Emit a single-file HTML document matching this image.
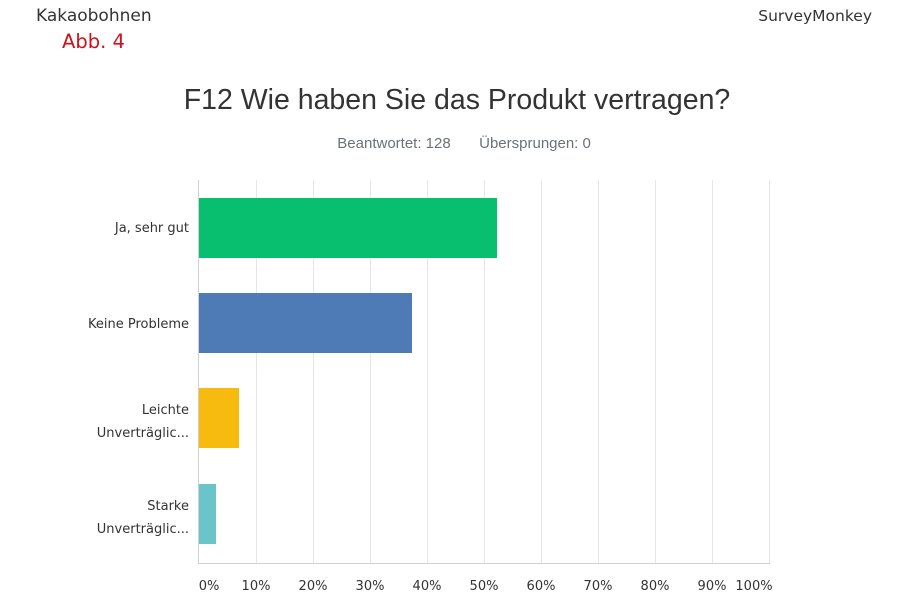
<!DOCTYPE html>
<html><head><meta charset="utf-8"><style>
body{margin:0;background:#fff;width:901px;height:601px;overflow:hidden;font-family:"Liberation Sans",sans-serif;}
</style></head><body>
<svg width="901" height="601" xmlns="http://www.w3.org/2000/svg">
<text x="36" y="21" font-family="DejaVu Sans" font-size="17" fill="#333">Kakaobohnen</text>
<text x="62" y="48" font-family="DejaVu Sans" font-size="19.5" fill="#d0101c">Abb. 4</text>
<text x="872" y="21" text-anchor="end" font-family="DejaVu Sans" font-size="15.5" fill="#333">SurveyMonkey</text>
<text x="457" y="109" text-anchor="middle" font-size="28.5" fill="#333">F12 Wie haben Sie das Produkt vertragen?</text>
<text x="394" y="148" text-anchor="middle" font-size="15" fill="#6b7178">Beantwortet: 128</text>
<text x="535" y="148" text-anchor="middle" font-size="15" fill="#6b7178">Übersprungen: 0</text>
<g stroke="#e6e6e6" stroke-width="1">
<line x1="256.5" y1="180" x2="256.5" y2="563"/><line x1="313.5" y1="180" x2="313.5" y2="563"/>
<line x1="370.5" y1="180" x2="370.5" y2="563"/><line x1="427.5" y1="180" x2="427.5" y2="563"/>
<line x1="484.5" y1="180" x2="484.5" y2="563"/><line x1="541.5" y1="180" x2="541.5" y2="563"/>
<line x1="598.5" y1="180" x2="598.5" y2="563"/><line x1="655.5" y1="180" x2="655.5" y2="563"/>
<line x1="712.5" y1="180" x2="712.5" y2="563"/><line x1="769.5" y1="180" x2="769.5" y2="563"/>
</g>
<line x1="198.5" y1="180" x2="198.5" y2="563" stroke="#d0d0d0"/>
<line x1="198" y1="563.5" x2="770" y2="563.5" stroke="#d0d0d0"/>
<rect x="199" y="198" width="298" height="60" fill="#08bf70"/>
<rect x="199" y="293" width="213" height="60" fill="#4e7ab5"/>
<rect x="199" y="388" width="40" height="60" fill="#f7bb0f"/>
<rect x="199" y="484" width="17" height="60" fill="#6ac5cb"/>
<g font-family="DejaVu Sans" font-size="13" fill="#333" text-anchor="end">
<text x="189" y="232">Ja, sehr gut</text>
<text x="189" y="328">Keine Probleme</text>
<text x="189" y="414">Leichte</text><text x="189" y="437">Unverträglic...</text>
<text x="189" y="510">Starke</text><text x="189" y="533">Unverträglic...</text>
</g>
<g font-family="DejaVu Sans" font-size="13" fill="#333" text-anchor="middle">
<text x="209" y="590">0%</text><text x="256" y="590">10%</text><text x="313" y="590">20%</text>
<text x="370" y="590">30%</text><text x="427" y="590">40%</text><text x="484" y="590">50%</text>
<text x="541" y="590">60%</text><text x="598" y="590">70%</text><text x="655" y="590">80%</text>
<text x="712" y="590">90%</text><text x="754" y="590">100%</text>
</g>
</svg>
</body></html>
